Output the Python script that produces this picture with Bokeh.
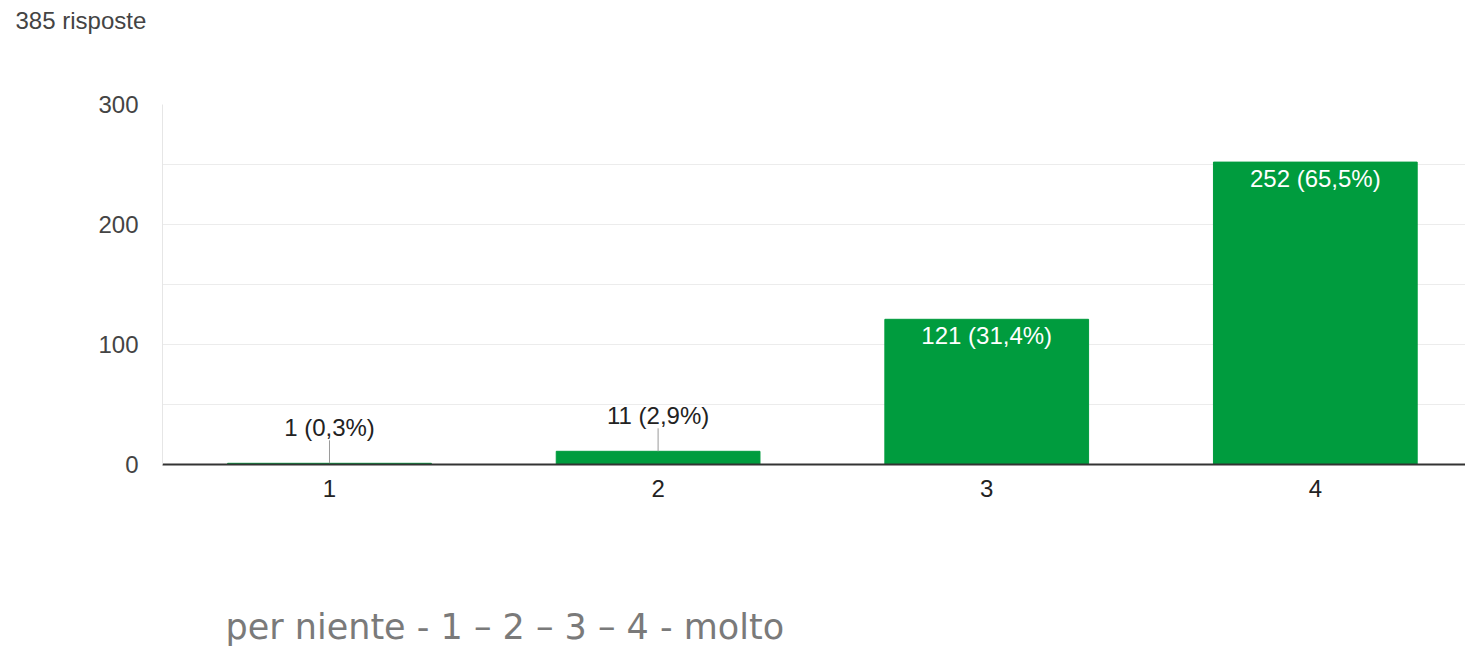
from bokeh.plotting import figure
from bokeh.models import Range1d, FixedTicker, Title, ColumnDataSource
from bokeh.core.properties import value
from bokeh.embed import file_html
from bokeh.resources import INLINE

categories = ["1", "2", "3", "4"]
counts = [1, 11, 121, 252]
total = 385
y_ticks = [0, 100, 200, 300]
grid_ticks = [0, 50, 100, 150, 200, 250, 300]
title_text = "385 risposte"
footer_text = "per niente - 1 \u2013 2 \u2013 3 \u2013 4 - molto"

GREEN = "#009c3e"
FONT = "Liberation Sans"

xs = [i + 1 for i in range(len(categories))]
labels = [f"{c} ({c / total * 100:.1f}%)".replace(".", ",") for c in counts]
inside = [c > 50 for c in counts]

X0, X1 = 0.4918, 4.457
PX_PER_Y = 360 / 300

p = figure(width=1465, height=650, output_backend="svg", toolbar_location=None,
           x_range=Range1d(X0, X1), y_range=Range1d(0, 300),
           min_border_left=162, min_border_top=104, min_border_bottom=186,
           min_border_right=0)
p.outline_line_color = None
p.background_fill_color = "white"
p.title.text = ""

# grid
p.xgrid.visible = False
p.ygrid.ticker = FixedTicker(ticks=grid_ticks)
p.ygrid.grid_line_color = "#ececec"
p.ygrid.grid_line_width = 1

# bars
p.vbar(x=xs, top=counts, width=0.62, color=GREEN)

# inside labels
src_in = ColumnDataSource(dict(
    x=[x for x, i in zip(xs, inside) if i],
    y=[c for c, i in zip(counts, inside) if i],
    t=[l for l, i in zip(labels, inside) if i]))
p.text(x="x", y="y", text="t", source=src_in, text_color="white",
       text_font=value(FONT), text_font_size="24px", text_align="center",
       text_baseline="middle", y_offset=16)

# outside labels with leader lines
lead = 23 / PX_PER_Y
ox = [x for x, i in zip(xs, inside) if not i]
oy = [c for c, i in zip(counts, inside) if not i]
ot = [l for l, i in zip(labels, inside) if not i]
p.segment(x0=ox, y0=oy, x1=ox, y1=[v + lead for v in oy], line_color="#9a9a9a", line_width=1)
src_out = ColumnDataSource(dict(x=ox, y=oy, t=ot))
p.text(x="x", y="y", text="t", source=src_out, text_color="#222222",
       text_font=value(FONT), text_font_size="24px", text_align="center",
       text_baseline="alphabetic", y_offset=-36)

# y axis
p.yaxis.ticker = FixedTicker(ticks=y_ticks)
p.yaxis.major_tick_out = 0
p.yaxis.major_tick_in = 0
p.yaxis.minor_tick_out = 0
p.yaxis.minor_tick_in = 0
p.yaxis.axis_line_color = "#e6e6e6"
p.yaxis.major_label_standoff = 24
p.yaxis.major_label_text_font = FONT
p.yaxis.major_label_text_font_size = "24px"
p.yaxis.major_label_text_color = "#444444"

# x axis
p.xaxis.ticker = FixedTicker(ticks=xs)
p.xaxis.major_label_overrides = {x: c for x, c in zip(xs, categories)}
p.xaxis.major_tick_out = 0
p.xaxis.major_tick_in = 0
p.xaxis.minor_tick_out = 0
p.xaxis.minor_tick_in = 0
p.xaxis.axis_line_color = "#333333"
p.xaxis.axis_line_width = 2
p.xaxis.major_label_standoff = 15
p.xaxis.major_label_text_font = FONT
p.xaxis.major_label_text_font_size = "24px"
p.xaxis.major_label_text_color = "#222222"

# top: spacer then title (stacked outward from the frame)
p.add_layout(Title(text=" ", text_font_size="1px", standoff=66), "above")
p.add_layout(Title(text=title_text, align="left", offset=-147, standoff=0,
                   vertical_align="top", text_font=FONT, text_font_size="24px",
                   text_color="#444444", text_font_style="normal"), "above")

# bottom: axis, spacer, footer
p.add_layout(Title(text=" ", text_font_size="1px", standoff=104), "below")
p.add_layout(Title(text=footer_text, align="left", offset=63, standoff=0,
                   vertical_align="top", text_font="DejaVu Sans", text_font_size="35px",
                   text_color="#7a7a7a", text_font_style="normal"), "below")

open("out.html", "w").write(file_html(p, INLINE))
